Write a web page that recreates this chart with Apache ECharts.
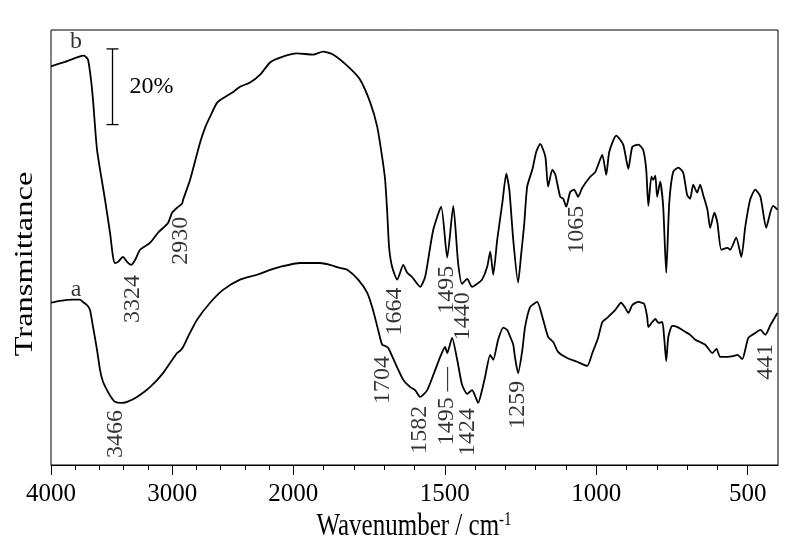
<!DOCTYPE html>
<html>
<head>
<meta charset="utf-8">
<title>FTIR spectra a / b</title>
<script src="https://cdn.jsdelivr.net/npm/echarts@6.0.0/dist/echarts.min.js"></script>
<style>
html, body { margin: 0; padding: 0; background: #fff; }
#chart { width: 800px; height: 543px; }
</style>
</head>
<body>
<div id="chart"></div>
<script>
var FONT = '"Liberation Serif", "Times New Roman", serif';

// spectrum b (upper curve), wavenumber in cm-1 and transmittance (offset %)
var waveB = [4000,3884,3761,3728,3695,3670,3653,3620,3554,3513,
  3488,3472,3447,3406,3372,3339,3306,3265,3183,3117,
  3034,3001,2960,2918,2910,2852,2770,2728,2687,2629,
  2563,2506,2440,2357,2274,2192,2109,1988,1935,1902,
  1869,1819,1780,1746,1723,1707,1697,1690,1684,1674,
  1657,1637,1624,1608,1581,1565,1555,1538,1512,1492,
  1472,1456,1443,1426,1410,1393,1377,1360,1350,1340,
  1327,1310,1297,1287,1274,1258,1248,1238,1228,1211,
  1198,1185,1168,1159,1145,1135,1119,1109,1099,1086,
  1073,1060,1046,1020,1003,980,967,957,934,911,
  894,881,861,845,835,828,818,812,805,799,
  789,779,769,759,746,729,713,700,690,680,
  667,657,647,633,624,610,600,587,567,558,
  538,521,508,492,475,458,439,425,416,402];
var transB = [105.4,106.6,108.0,108.2,107.2,101.9,96.4,83.3,70.1,61.4,
  55.0,53.4,53.7,55.0,53.7,52.9,54.2,56.9,58.7,61.4,
  64.0,66.7,68.0,69.1,70.1,75.4,85.2,89.2,92.1,95.8,
  97.3,98.4,100.0,101.1,103.2,106.4,107.7,108.8,108.5,109.3,
  108.5,105.3,101.9,95.8,89.4,81.5,75.4,66.7,57.7,52.4,
  49.0,52.9,50.8,49.7,47.1,49.7,54.2,62.2,68.3,54.8,
  68.5,53.4,47.9,49.2,47.1,47.9,49.0,52.4,56.4,50.3,
  59.5,69.3,77.0,72.8,59.5,48.2,55.6,63.5,73.6,78.1,
  82.8,84.9,81.5,73.6,78.1,76.7,70.9,70.4,68.3,72.2,
  72.8,70.9,73.3,76.2,77.5,82.0,76.7,82.8,87.1,84.7,
  78.3,84.1,84.7,83.3,78.1,68.5,76.2,75.4,76.5,70.9,
  74.9,68.3,50.8,69.3,77.5,78.6,77.3,71.4,70.4,74.1,
  72.0,74.1,71.4,67.5,62.7,66.7,64.0,56.9,57.4,56.9,
  60.1,55.0,63.0,70.1,72.8,70.9,62.7,66.9,68.5,67.5];

// spectrum a (lower curve)
var waveA = [4000,3926,3818,3761,3736,3703,3678,3653,3620,3595,
  3571,3538,3505,3472,3422,3372,3290,3183,3075,2960,
  2935,2910,2869,2795,2687,2580,2440,2299,2192,2109,
  1978,1912,1879,1846,1822,1786,1756,1737,1720,1707,
  1697,1687,1664,1637,1614,1598,1581,1558,1538,1515,
  1499,1492,1476,1459,1443,1426,1410,1400,1390,1377,
  1367,1350,1340,1324,1307,1294,1284,1274,1268,1258,
  1244,1235,1218,1195,1178,1159,1142,1126,1096,1063,
  1030,1013,994,980,964,947,937,918,904,894,
  881,861,842,832,828,815,805,795,782,776,
  769,762,749,733,706,690,673,657,640,617,
  603,591,567,548,534,518,498,475,458,442,
  425,402];
var transA = [42.9,43.4,43.7,43.7,43.1,42.3,41.0,36.5,30.4,25.1,
  22.0,19.8,18.0,16.7,16.4,16.7,18.0,20.6,24.3,29.6,
  30.2,31.2,33.9,38.4,42.9,46.3,49.0,50.3,51.6,52.4,
  53.4,53.4,52.9,52.1,51.6,49.0,45.5,41.0,35.7,31.8,
  31.5,31.0,27.0,22.5,20.6,19.8,18.0,19.8,23.8,28.6,
  31.2,29.6,33.6,27.8,21.2,18.8,19.8,18.3,16.4,19.8,
  23.3,29.1,27.8,33.1,36.3,35.7,33.9,31.8,28.3,24.3,
  30.4,36.5,41.8,43.1,39.2,33.9,32.5,29.9,28.3,27.3,
  26.2,29.6,33.6,37.8,38.9,40.2,41.0,42.9,41.5,40.2,
  42.3,43.1,42.6,39.2,36.5,37.8,38.6,37.6,37.8,33.9,
  27.5,33.9,36.8,36.5,35.2,34.4,33.1,32.5,31.8,29.6,
  30.7,28.6,28.6,28.8,29.1,28.0,33.6,34.9,35.7,34.4,
  37.0,40.2];

var majorTicks = [4000, 3000, 2000, 1500, 1000, 500];
var minorTicks = [3800, 3600, 3400, 3200, 2800, 2600, 2400, 2200,
  1900, 1800, 1700, 1600, 1400, 1300, 1200, 1100, 900, 800, 700, 600];

// band labels written along the curves
var peakText = ['3324', '2930', '1664', '1495', '1440', '1065',
  '3466', '1704', '1582', '1495 \u2014', '1424', '1259', '441'];
var peakWave = [3324, 2930, 1664, 1495, 1440, 1065,
  3466, 1704, 1582, 1495, 1424, 1259, 441];
var peakPos = [43.9, 59.3, 40.6, 46.3, 39.3, 62.2,
  8.2, 22.5, 9.3, 15.5, 8.7, 15.9, 27.3];

var curveNames = ['b', 'a'];
var curveNameWave = [3794, 3794];
var curveNamePos = [111.9, 46.3];

// 20% scale bar
var scaleWave = 3500, scaleFrom = 90, scaleSize = 20;

// the 4000-2000 part is drawn at 0.4x the scale of 2000-400
function toU(w) { return w >= 2000 ? (4000 - w) * 0.4 : 800 + (2000 - w); }
function toW(u) { return u <= 800 ? 4000 - u / 0.4 : 2000 - (u - 800); }

function pairs(ws, ys) {
  return ws.map(function (w, i) { return [toU(w), ys[i]]; });
}

var chart = echarts.init(document.getElementById('chart'));

var option = {
  animation: false,
  grid: { left: 51, right: 22, top: 30, bottom: 78, show: true, borderColor: '#000', borderWidth: 1 },
  xAxis: [{
    type: 'value', min: 0, max: 2400,
    axisLine: { show: true, lineStyle: { color: '#000', width: 1 } },
    splitLine: { show: false },
    axisTick: { show: true, customValues: majorTicks.map(toU), length: 10, lineStyle: { color: '#000', width: 1 } },
    axisLabel: {
      customValues: majorTicks.map(toU), margin: 17,
      color: '#000', fontSize: 25, fontFamily: FONT,
      formatter: function (u) { return String(Math.round(toW(u))); }
    }
  }, {
    type: 'value', min: 0, max: 2400, position: 'bottom',
    axisLine: { show: false },
    splitLine: { show: false },
    axisLabel: { show: false },
    axisTick: { show: true, customValues: minorTicks.map(toU), length: 5, lineStyle: { color: '#000', width: 1 } }
  }],
  yAxis: { type: 'value', min: 0, max: 115, show: false },
  graphic: [{
    type: 'text', x: 25, y: 264, rotation: Math.PI / 2, scaleX: 1.3,
    style: { text: 'Transmittance', fontSize: 25, fontFamily: FONT, fill: '#000', align: 'center', verticalAlign: 'middle' }
  }, {
    type: 'text', x: 414, y: 526, scaleY: 1.3,
    style: {
      text: 'Wavenumber / cm{sup|-1}', fontSize: 25, fontFamily: FONT, fill: '#000',
      align: 'center', verticalAlign: 'middle',
      rich: { sup: { fontSize: 15, fontFamily: FONT, fill: '#000', verticalAlign: 'top' } }
    }
  }],
  series: [{
    name: 'b', type: 'line', data: pairs(waveB, transB), symbol: 'none',
    smooth: 0.2, lineStyle: { color: '#000', width: 1.8 }, silent: true
  }, {
    name: 'a', type: 'line', data: pairs(waveA, transA), symbol: 'none',
    smooth: 0.2, lineStyle: { color: '#000', width: 1.8 }, silent: true
  }, {
    type: 'scatter', symbolSize: 1, itemStyle: { color: 'transparent' }, silent: true,
    data: peakText.map(function (t, i) { return { name: t, value: [toU(peakWave[i]), peakPos[i]] }; }),
    label: { show: true, position: 'inside', rotate: 90, formatter: '{b}', color: '#000', fontSize: 24, fontFamily: FONT }
  }, {
    type: 'scatter', symbolSize: 1, itemStyle: { color: 'transparent' }, silent: true,
    data: curveNames.map(function (t, i) { return { name: t, value: [toU(curveNameWave[i]), curveNamePos[i]] }; }),
    label: { show: true, position: 'inside', formatter: '{b}', color: '#000', fontSize: 24, fontFamily: FONT }
  }, {
    type: 'custom', silent: true,
    data: [[toU(scaleWave), scaleFrom, scaleSize]],
    renderItem: function (params, api) {
      var lo = api.coord([api.value(0), api.value(1)]);
      var hi = api.coord([api.value(0), api.value(1) + api.value(2)]);
      var x = Math.round(lo[0]) + 0.5;
      var st = { stroke: '#000', lineWidth: 1.3 };
      return {
        type: 'group',
        children: [
          { type: 'line', shape: { x1: x, y1: lo[1], x2: x, y2: hi[1] }, style: st },
          { type: 'line', shape: { x1: x - 6, y1: lo[1], x2: x + 6, y2: lo[1] }, style: st },
          { type: 'line', shape: { x1: x - 6, y1: hi[1], x2: x + 6, y2: hi[1] }, style: st },
          { type: 'text', x: x + 17, y: (lo[1] + hi[1]) / 2,
            style: { text: api.value(2) + '%', fontSize: 24, fontFamily: FONT, fill: '#000', align: 'left', verticalAlign: 'middle' } }
        ]
      };
    }
  }]
};

chart.setOption(option);
</script>
</body>
</html>
